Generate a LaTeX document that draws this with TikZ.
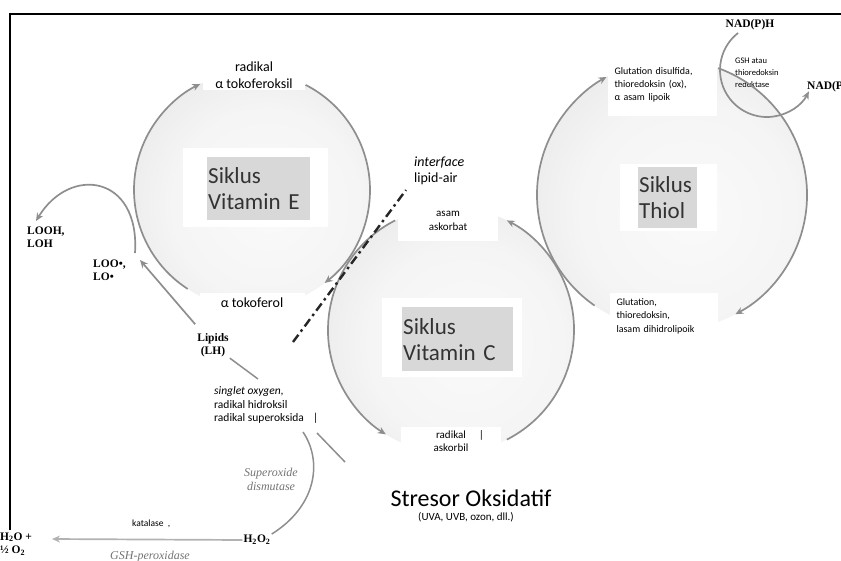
\documentclass[tikz,border=0pt]{standalone}
\usepackage{fontspec}
\setmainfont{Carlito}
\newfontfamily\tnr{Liberation Serif}
\usepackage{tikz}
\usetikzlibrary{positioning,arrows.meta,calc}
\definecolor{arcgray}{HTML}{8E8E8E}
\definecolor{titlegray}{HTML}{D8D8D8}
\pgfdeclareradialshading{ballshade}{\pgfpoint{4bp}{-4bp}}{color(0bp)=(black!2); color(20bp)=(black!4); color(34bp)=(black!9); color(43bp)=(black!15); color(50bp)=(black!26); color(76bp)=(black!26)}

\begin{document}
\begin{tikzpicture}[x=1pt,y=1pt,
  every node/.style={inner sep=1pt},
  ball/.style={shading=ballshade},
  cyctitle/.style={fill=titlegray,text=black!80,align=left,anchor=north west,
               inner xsep=1pt,inner ysep=0pt,font=\fontsize{23}{26}\selectfont},
  lbl/.style={fill=white,align=center,inner sep=0pt},
  chem/.style={font=\tnr\bfseries\fontsize{11.5}{13.5}\selectfont,align=left},
  enz/.style={font=\tnr\itshape\fontsize{12}{14}\selectfont,text=black!55,align=center},
  arr/.style={-{Stealth[length=8pt,width=7pt]},draw=arcgray,line width=1.7pt},
  ln/.style={draw=arcgray,line width=1.5pt},
  iline/.style={draw=black!85,line width=2.4pt,dash pattern=on 9pt off 4pt on 2.5pt off 4pt},
]
\useasboundingbox (0,0) rectangle (841,-560);
\clip (0,0) rectangle (841,-560);

% frame
\draw[line width=2pt] (10,-530) |- (845,-14);

% spheres
\coordinate (cE) at (252,-190);
\coordinate (cC) at (451,-330);
\coordinate (cT) at (672,-195);
\shade[ball] (cE) circle[radius=118];
\shade[ball] (cC) circle[radius=123];
\shade[ball] (cT) circle[radius=135];

% white fields behind the titles
\fill[white] (183,-148) rectangle (328,-227);
\fill[white] (382,-298) rectangle (522,-377);
\fill[white] (620,-164) rectangle (717,-231);

\node[cyctitle,text width=101pt,minimum height=63pt] (tE) at (207,-157) {Siklus\\Vitamin E};
\node[cyctitle,text width=109pt,minimum height=64pt] (tC) at (402,-307) {Siklus\\Vitamin C};
\node[cyctitle,text width=57pt,minimum height=61pt] (tT) at (638,-167) {Siklus\\Thiol};

% labels on the cycles
\node[lbl,font=\fontsize{14}{17}\selectfont,minimum width=102pt,minimum height=30pt] (radE) at (254,-75) {radikal\\α tokoferoksil};
\node[lbl,font=\fontsize{14}{17}\selectfont,minimum width=105pt,minimum height=20pt] (tocE) at (252,-303) {α tokoferol};
\node[lbl,font=\fontsize{11}{14}\selectfont,minimum width=100pt,minimum height=40pt] (asc) at (448,-221) {asam\\askorbat};
\node[lbl,font=\fontsize{11}{13}\selectfont,minimum width=100pt,minimum height=28pt] (askb) at (451,-441) {radikal\rlap{\hspace{13pt}|}\\askorbil};
\node[lbl,font=\fontsize{10}{13}\selectfont,align=left,text width=95pt,minimum width=109pt,minimum height=62pt] (gsox) at (662,-85) {Glutation disulfida,\\thioredoksin (ox),\\α asam lipoik};
\node[lbl,font=\fontsize{10}{13.5}\selectfont,align=left,text width=95pt,minimum width=108pt,minimum height=46pt] (gsred) at (664,-316) {Glutation,\\thioredoksin,\\lasam dihidrolipoik};

\node[anchor=west,align=left,font=\fontsize{14}{16}\selectfont] (iface) at (413,-171) {\textit{interface}\\lipid-air};
\node[anchor=west,align=left,font=\fontsize{11.5}{13.5}\selectfont] (ros) at (213,-405) {\textit{singlet oxygen,}\\radikal hidroksil\\radikal superoksida\rlap{\hspace{9pt}|}};

% lipid side
\node[chem,anchor=west] (looh) at (26,-237) {LOOH,\\LOH};
\node[chem,anchor=west] (loo) at (92,-270) {LOO•,\\LO•};
\node[chem,align=center] (lip) at (213,-345) {Lipids\\(LH)};
\node[chem] (h2o2) at (257,-540) {H\textsubscript{2}O\textsubscript{2}};
\node[chem,anchor=west] (h2o) at (-1,-544) {H\textsubscript{2}O +\\½ O\textsubscript{2}};
\node[enz] (sod) at (271,-479) {Superoxide\\dismutase};
\node[anchor=west,font=\fontsize{9.5}{11}\selectfont] (kat) at (131,-524) {katalase\ \ ,};
\node[enz] (gpx) at (150,-557) {GSH-peroxidase};

% thiol side
\node[chem] (nadh) at (750,-25) {NAD(P)H};
\node[chem,anchor=west] (nadp) at (806,-86) {NAD(P)\textsuperscript{+}};
\node[anchor=west,align=left,font=\fontsize{8.5}{12}\selectfont] (gshr) at (734,-73) {GSH atau\\thioredoksin\\reduktase};

% stressor
\node[font=\fontsize{24}{28}\selectfont] (str) at (471,-498) {Stresor Oksidatif};
\node[font=\fontsize{11}{13}\selectfont,below=4pt of str,xshift=-5pt] (uv) {(UVA, UVB, ozon, dll.)};

% cycle arcs
\coordinate (eL) at ($(cE)+(237:118)$);
\coordinate (eR) at ($(cE)+(63:118)$);
\coordinate (cL) at ($(cC)+(117:123)$);
\coordinate (cR) at ($(cC)+(-63:123)$);
\coordinate (tL) at ($(cT)+(235:135)$);
\coordinate (tR) at ($(cT)+(70:135)$);
\draw[arr] (eL) arc[start angle=237,end angle=116,radius=118];
\draw[arr] (eR) arc[start angle=63,end angle=-52,radius=118];
\draw[arr] (cL) arc[start angle=117,end angle=238,radius=123];
\draw[arr] (cR) arc[start angle=-63,end angle=63,radius=123];
\draw[arr] (tL) arc[start angle=235,end angle=119,radius=135];
\draw[arr] (tR) arc[start angle=70,end angle=-62,radius=135];

% NAD(P)H loop
\coordinate (nc) at (767,-70);
\coordinate (nA) at ($(nc)+(128:47)$);
\draw[arr] (nA) arc[start angle=128,end angle=333,radius=47];

% lipid peroxidation
\coordinate (loA) at (140,-260);
\coordinate (lb) at (135,-253);
\coordinate (lh) at (36,-221);
\draw[arr,shorten <=10pt] (lip) -- (loA);
\draw[arr] (lb) .. controls (140,-175) and (70,-165) .. (lh);
\coordinate (rosA) at (258,-379);
\draw[ln] (lip.south east) -- (rosA);
\coordinate (rsA) at (303,-432);
\draw[ln] (rsA) .. controls (322,-460) and (318,-505) .. (h2o2.north east);
\coordinate (sA) at (345,-462);
\coordinate (sB) at (317,-433);
\draw[ln] (sA) -- (sB);
\coordinate (katEnd) at (52,-539);
\draw[arr,draw=black!30] (h2o2.west) -- (katEnd);

% interface lipid-air
\coordinate (ifA) at (293,-342);
\coordinate (ifB) at (406,-190);
\draw[iline] (ifA) -- (ifB);
\end{tikzpicture}
\end{document}
